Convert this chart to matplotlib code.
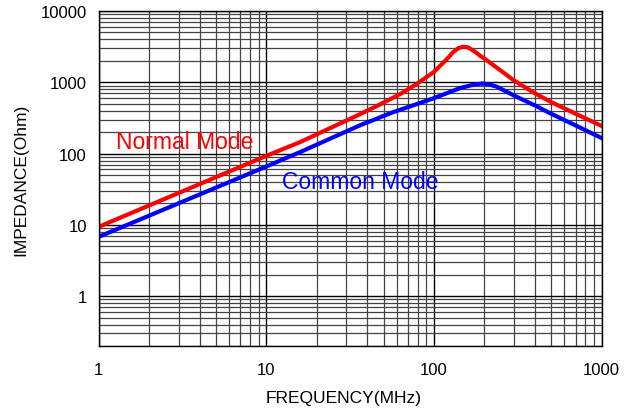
import matplotlib
matplotlib.use("Agg")
import matplotlib.pyplot as plt
from matplotlib.ticker import LogLocator, NullFormatter

plt.rcParams['font.family'] = ['Liberation Sans', 'DejaVu Sans']

# values (MHz, Ohm)
normal_freq = [1, 10, 15.9, 36, 47.6, 64, 79.4, 100, 119, 130, 140, 150, 160, 175, 188, 200, 250, 300, 400, 500, 700, 1000]
normal_z = [9.4, 93, 145, 355, 489, 700, 960, 1400, 2100, 2650, 3020, 3150, 3080, 2700, 2370, 2150, 1460, 1060, 700, 528, 362, 244]

common_freq = [1, 10, 15.9, 36, 56, 100, 143, 170, 192, 210, 236, 300, 400, 500, 700, 1000]
common_z = [6.8, 66, 105, 248, 375, 600, 829, 920, 960, 945, 870, 653, 473, 362, 248, 165]

y_ticks = [1, 10, 100, 1000, 10000]
x_ticks = [1, 10, 100, 1000]

fig = plt.figure(figsize=(6.34, 4.14), dpi=100)
ax = fig.add_axes([0.1557, 0.1618, 0.7933, 0.8092])

ax.set_xscale('log')
ax.set_yscale('log')
ax.set_xlim(1, 1000)
ax.set_ylim(0.2, 10000)

ax.grid(True, which='major', color='black', linewidth=1.0)
ax.grid(True, which='minor', color='#444444', linewidth=0.9)
ax.set_axisbelow(True)

ax.plot(normal_freq, normal_z, color='#ff0000', linewidth=3, solid_joinstyle='round')
ax.plot(common_freq, common_z, color='#0000ff', linewidth=3, solid_joinstyle='round')

ax.text(1.27, 147, 'Normal Mode', color='#ff0000', fontsize=16.5, ha='left', va='center')
ax.text(12.4, 40.4, 'Common Mode', color='#0000ff', fontsize=16.5, ha='left', va='center')

ax.set_xticks(x_ticks)
ax.set_xticklabels([str(v) for v in x_ticks])
ax.set_yticks(y_ticks)
ax.set_yticklabels([str(v) for v in y_ticks])
ax.xaxis.set_minor_locator(LogLocator(base=10, subs=range(2, 10)))
ax.yaxis.set_minor_locator(LogLocator(base=10, subs=range(2, 10)))
ax.xaxis.set_minor_formatter(NullFormatter())
ax.yaxis.set_minor_formatter(NullFormatter())
ax.tick_params(which='both', length=0)
ax.tick_params(axis='x', pad=11.5, labelsize=12)
ax.tick_params(axis='y', pad=8.5, labelsize=12)

for s in ax.spines.values():
    s.set_color('black')
    s.set_linewidth(1)

fig.text(344 / 634, 1 - 399 / 414, 'FREQUENCY(MHz)', fontsize=12.5, ha='center', va='center')
fig.text(21 / 634, 1 - 180 / 414, 'IMPEDANCE(Ohm)', fontsize=12.5, ha='center', va='center', rotation=90)

fig.savefig('out.png', dpi=100)
